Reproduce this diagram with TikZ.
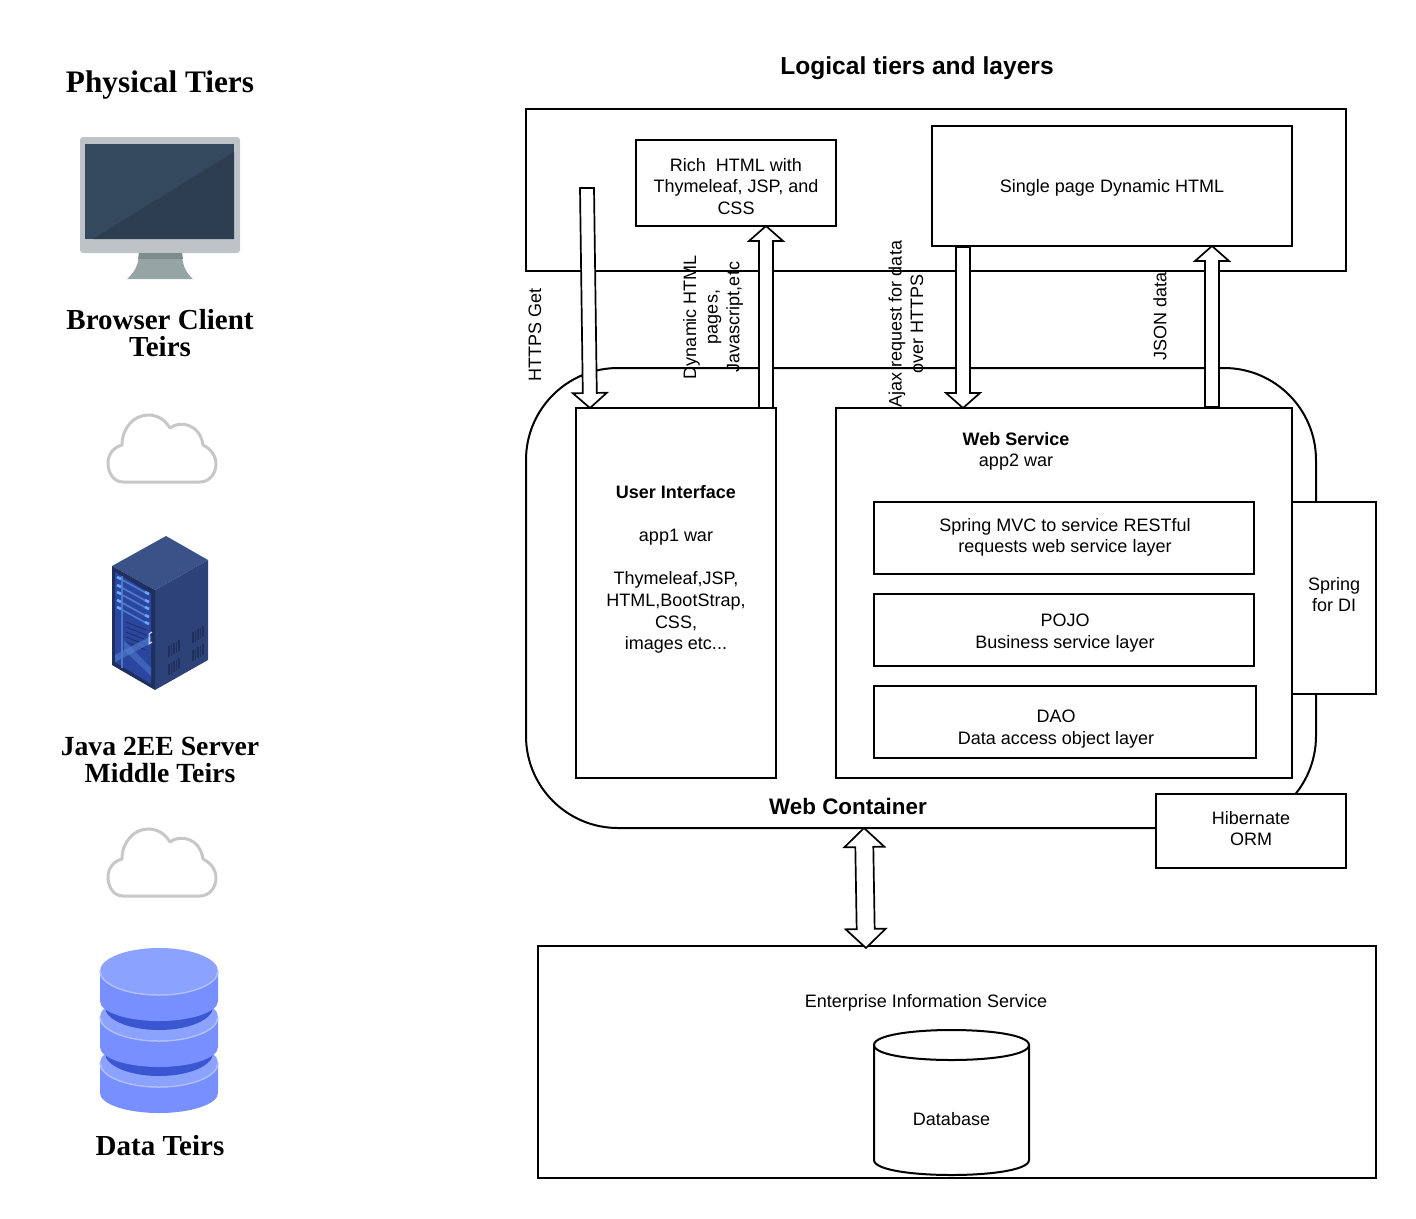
\documentclass[tikz,border=0pt]{standalone}
\usepackage{fontspec}
\setmainfont{Liberation Sans}
\newfontfamily\tierfont{Liberation Serif}
\usetikzlibrary{calc}
\definecolor{bezel}{HTML}{BDC3C7}
\definecolor{screenA}{HTML}{34495E}
\definecolor{screenB}{HTML}{2C3E50}
\definecolor{standA}{HTML}{95A5A6}
\definecolor{standB}{HTML}{7F8C8D}
\definecolor{rackTop}{HTML}{3A5288}
\definecolor{rackSide}{HTML}{2C4279}
\definecolor{rackEdge}{HTML}{1F2F5E}
\definecolor{rackGlass}{HTML}{2B469E}
\definecolor{rackSlat}{HTML}{6CA8F8}
\definecolor{discTop}{HTML}{8CA2FF}
\definecolor{discSide}{HTML}{7890FF}
\definecolor{discBand}{HTML}{3A56D0}
\definecolor{discRim}{HTML}{B2C0FF}
\tikzset{
  dia/.style={x=1pt, y=-1pt, line width=2pt, every node/.style={font=\fontsize{18}{21.6}\selectfont, align=center, inner sep=0pt}},
  tbox/.style={draw, rectangle, fill=white},
  tier/.style={font=\tierfont\bfseries\fontsize{#1}{27}\selectfont},
  head/.style={font=\bfseries\fontsize{#1}{28}\selectfont},
  side/.style={rotate=90},
  blockdown/.style={draw, fill=white, line width=1.7pt, miter limit=10, to path={
      ($(\tikztostart)!7pt!90:(\tikztotarget)$) --
      ($(\tikztotarget)!15pt!(\tikztostart)!7pt!90:(\tikztotarget)$) --
      ($(\tikztotarget)!15pt!(\tikztostart)!17pt!90:(\tikztotarget)$) --
      (\tikztotarget) --
      ($(\tikztotarget)!15pt!(\tikztostart)!17pt!-90:(\tikztotarget)$) --
      ($(\tikztotarget)!15pt!(\tikztostart)!7pt!-90:(\tikztotarget)$) --
      ($(\tikztostart)!7pt!-90:(\tikztotarget)$) -- cycle}},
  blockboth/.style={draw, fill=white, line width=1.7pt, to path={
      (\tikztostart) --
      ($(\tikztostart)!19pt!(\tikztotarget)!20pt!-90:(\tikztotarget)$) --
      ($(\tikztostart)!19pt!(\tikztotarget)!9pt!-90:(\tikztotarget)$) --
      ($(\tikztotarget)!19pt!(\tikztostart)!9pt!90:(\tikztostart)$) --
      ($(\tikztotarget)!19pt!(\tikztostart)!20pt!90:(\tikztostart)$) --
      (\tikztotarget) --
      ($(\tikztotarget)!19pt!(\tikztostart)!20pt!-90:(\tikztostart)$) --
      ($(\tikztotarget)!19pt!(\tikztostart)!9pt!-90:(\tikztostart)$) --
      ($(\tikztostart)!19pt!(\tikztotarget)!9pt!90:(\tikztotarget)$) --
      ($(\tikztostart)!19pt!(\tikztotarget)!20pt!90:(\tikztotarget)$) -- cycle}},
  cloudicon/.pic={
    \draw[draw=black!22, line width=3pt, line join=round]
      (123,482) .. controls (113,482) and (108,472) .. (108,463)
      .. controls (108,454) and (114,447) .. (122,445)
      .. controls (122,428) and (134,415) .. (148,415)
      .. controls (158,415) and (165,420) .. (170,428)
      .. controls (180,420) and (200,424) .. (203,445)
      .. controls (211,449) and (216,456) .. (216,464)
      .. controls (216,474) and (209,482) .. (200,482) -- cycle;
  }
}
\newcommand{\dbdisc}[1]{
  \fill[discSide] (100,#1) -- (100,#1+30) arc[start angle=180, end angle=360, x radius=59, y radius=-20] -- (218,#1) -- cycle;
  \fill[discTop] (159,#1) ellipse[x radius=59, y radius=23];
  \draw[discRim, line width=1.5pt] (100,#1) arc[start angle=180, end angle=360, x radius=59, y radius=-24];
}
\newcommand{\dbband}[1]{
  \fill[discBand] (105,#1-8) -- (105,#1) arc[start angle=180, end angle=360, x radius=54, y radius=-23] -- (213,#1-8) -- cycle;
}
\begin{document}
\begin{tikzpicture}[dia]
\useasboundingbox (0,0) rectangle (1416,1218);
\node[tier=31.3] (phys) at (160,85.5) {Physical Tiers};
\node[head=24.6] (logic) at (917,68) {Logical tiers and layers};

\fill[bezel, rounded corners=3pt] (80,137) rectangle (240,253);
\fill[screenA] (85,144) rectangle (234,239);
\fill[screenB] (93,239) -- (234,152) -- (234,239) -- cycle;
\fill[standA] (139,253) .. controls (139,265) and (134,273) .. (127,279) -- (193,279) .. controls (186,273) and (182,265) .. (182,253) -- cycle;
\fill[standB] (139,253) -- (182,253) -- (183,259) -- (138,259) -- cycle;
\node[tier=29] (client) at (160,333.5) {Browser Client\\Teirs};
\pic at (0,0) {cloudicon};

\fill[rackTop] (166,536) -- (208,560) -- (155,590) -- (112,566) -- cycle;
\fill[rackSide] (208,560) -- (208,660) -- (155,690) -- (155,590) -- cycle;
\fill[rackEdge] (112,566) -- (155,590) -- (155,690) -- (112,665) -- cycle;
\fill[rackGlass] (115,572) -- (151,594) -- (151,684) -- (115,662) -- cycle;
\foreach \ya in {622,627,632,637,642}
  \draw[rackEdge, line width=.8pt] (126,\ya) -- (146,\ya+8);
\fill[rackSlat!60!rackGlass, opacity=.6] (115,655) -- (151,636) -- (151,643) -- (115,662) -- cycle;
\fill[rackSlat!60!rackGlass, opacity=.5] (124,640) -- (151,668) -- (151,676) -- (124,650) -- cycle;
\draw[rackSlat!50!rackGlass, line width=1.5pt] (122,576) -- (122,668);
\foreach \ya in {577,585,592,600,607} {
  \draw[rackSlat!55!rackGlass, line width=1.6pt] (117,\ya) -- (148,\ya+17);
  \draw[rackSlat, line width=2.6pt] (117,\ya) -- (121,\ya+2);
  \draw[rackSlat, line width=2.6pt] (145,\ya+15) -- (149,\ya+17);
}
\draw[rackSlat!30!white, line width=1pt] (152,632) -- (149,634) -- (149,644) -- (152,642);
\foreach \xa/\ya in {169/646, 169/664, 193/632, 193/650}
  \foreach \i in {0,...,4}
    \draw[rackEdge, line width=1.2pt] (\xa+2.5*\i,\ya-1.4*\i) -- (\xa+2.5*\i,\ya-1.4*\i+11);
\node[tier=27.7] (middle) at (160,759.5) {Java 2EE Server\\Middle Teirs};
\pic at (0,414) {cloudicon};

\dbdisc{1063}
\dbband{1053}
\dbdisc{1017}
\dbband{1007}
\dbdisc{971}
\node[tier=29] (data) at (160,1146) {Data Teirs};

\node[draw, rectangle, minimum width=820, minimum height=162] (browser) at (936,190) {};
\node[draw, rectangle, rounded corners=92pt, minimum width=790, minimum height=460] (webc) at (921,598) {};
\node[tbox, minimum width=200, minimum height=86] (rich) at (736,183) {};
\node (richtext) at (736,186.5) {Rich\ \ HTML with\\Thymeleaf, JSP, and\\CSS};
\node[tbox, minimum width=360, minimum height=120] (spa) at (1112,186) {};
\node (spatext) at (1112,187.5) {Single page Dynamic HTML};
\node[tbox, minimum width=200, minimum height=370] (ui) at (676,593) {};
\node (uitext) at (676,569.5) {\textbf{User Interface}\\ \\app1 war\\ \\Thymeleaf,JSP,\\HTML,BootStrap,\\CSS,\\images etc...};
\node[tbox, minimum width=456, minimum height=370] (ws) at (1064,593) {};
\node (wstext) at (1016,451.5) {\textbf{Web Service}\\app2 war};
\node[tbox, minimum width=380, minimum height=72] (mvc) at (1064,538) {};
\node (mvctext) at (1065,537.5) {Spring MVC to service RESTful\\requests web service layer};
\node[tbox, minimum width=380, minimum height=72] (pojo) at (1064,630) {};
\node (pojotext) at (1065,633) {POJO\\Business service layer};
\node[tbox, minimum width=382, minimum height=72] (dao) at (1065,722) {};
\node (daotext) at (1056,729) {DAO\\Data access object layer};
\node[tbox, minimum width=84, minimum height=192] (spring) at (1334,598) {};
\node (springtext) at (1334,594.5) {Spring\\for DI};
\node[head=22.4] (wclabel) at (848,806) {Web Container};
\node[tbox, minimum width=190, minimum height=74] (orm) at (1251,831) {};
\node (ormtext) at (1251,828.5) {Hibernate\\ORM};
\node[tbox, minimum width=838, minimum height=232] (eis) at (957,1062) {};
\node (eistext) at (926,1003) {Enterprise Information Service};
\draw[fill=white] (874,1045) .. controls (874,1025) and (1029,1025) .. (1029,1045) -- (1029,1160) .. controls (1029,1180) and (874,1180) .. (874,1160) -- cycle;
\draw (874,1045) .. controls (874,1065) and (1029,1065) .. (1029,1045);
\node (dbase) at (951.5,1119) {Database};

\coordinate (getstart) at (587,188);
\coordinate (getend) at (590,408);
\coordinate (pagestart) at (766,408);
\coordinate (pageend) at (766,226);
\coordinate (ajaxstart) at (963,247);
\coordinate (ajaxend) at (963,408);
\coordinate (jsonstart) at (1212,407);
\coordinate (jsonend) at (1212,246);
\coordinate (jdbctop) at (864,828);
\coordinate (jdbcbot) at (866,948);
\path[blockdown] (getstart) to (getend);
\path[blockdown] (pagestart) to (pageend);
\path[blockdown] (ajaxstart) to (ajaxend);
\path[blockdown] (jsonstart) to (jsonend);
\path[blockboth] (jdbctop) to (jdbcbot);

\node[side] (gettext) at (535,335) {HTTPS Get};
\node[side] (pagetext) at (713,317) {Dynamic HTML\\pages,\\Javascript,etc};
\node[side] (ajaxtext) at (906,324) {Ajax request for data\\over HTTPS};
\node[side] (jsontext) at (1160,316) {JSON data};
\end{tikzpicture}
\end{document}
